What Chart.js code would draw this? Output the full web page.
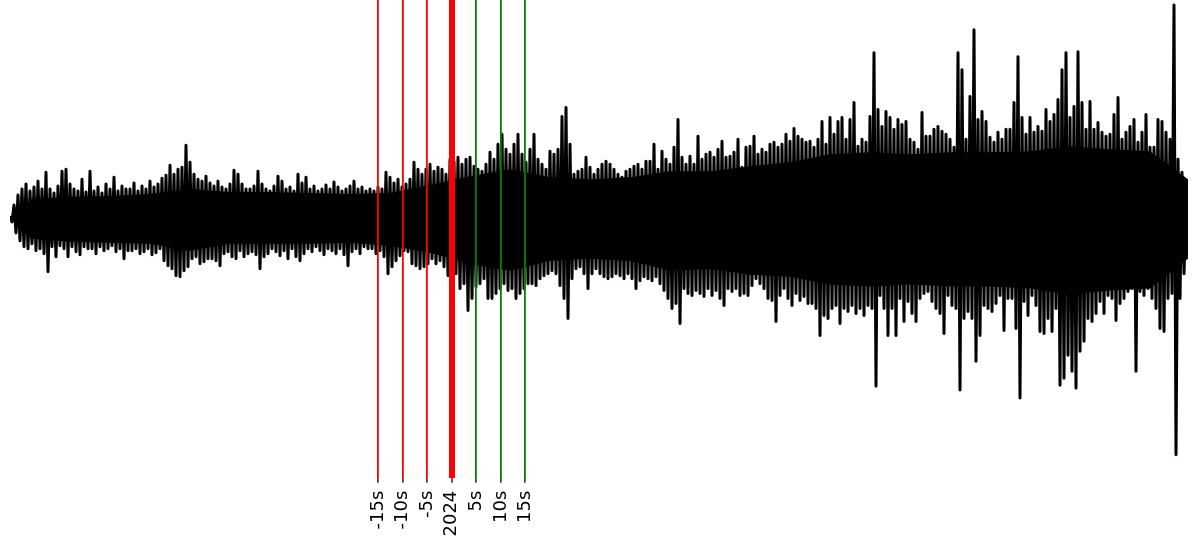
<!DOCTYPE html>
<html><head><meta charset="utf-8">
<script src="https://cdn.jsdelivr.net/npm/chart.js@4.4.1/dist/chart.umd.min.js"></script>
<style>html,body{margin:0;padding:0;background:#fff;}#wrap{width:1200px;height:550px;}</style>
</head><body><div id="wrap"><canvas id="c" width="1200" height="550"></canvas></div>
<script>
// tick positions (seconds relative to the event) and their labels
const tickValues = [-15, -10, -5, 0, 5, 10, 15];
const tickLabels = ['-15s', '-10s', '-5s', '2024', '5s', '10s', '15s'];
// time span covered by the waveform (seconds)
const timeStart = -90;
const timeEnd = 150;
// local positive peaks of the waveform, left to right
const peakHigh = [
  3, 14, 24, 30, 35, 28, 32, 38, 30, 47,
  30, 26, 33, 48, 50, 35, 30, 28, 40, 27,
  48, 28, 32, 26, 35, 30, 42, 28, 33, 30,
  30, 36, 28, 33, 30, 38, 32, 35, 41, 44,
  54, 45, 50, 52, 74, 57, 45, 40, 38, 43,
  36, 33, 38, 32, 30, 35, 49, 45, 35, 30,
  30, 33, 48, 35, 30, 28, 33, 43, 38, 30,
  32, 28, 45, 36, 42, 30, 33, 28, 30, 34,
  30, 37, 32, 28, 30, 33, 38, 30, 32, 28,
  30, 28, 32, 30, 47, 42, 36, 40, 32, 35,
  40, 57, 50, 45, 50, 55, 48, 52, 50, 45,
  60, 58, 62, 55, 60, 62, 53, 50, 48, 55,
  67, 60, 75, 85, 70, 65, 75, 85, 65, 57,
  70, 85, 60, 55, 50, 68, 65, 70, 103, 112,
  75, 45, 48, 50, 62, 52, 45, 50, 55, 58,
  55, 50, 45, 42, 48, 50, 53, 55, 50, 58,
  58, 75, 50, 68, 60, 55, 72, 100, 62, 55,
  63, 55, 83, 60, 65, 67, 62, 70, 78, 62,
  63, 67, 80, 52, 72, 73, 83, 65, 70, 67,
  75, 77, 72, 75, 85, 78, 91, 83, 80, 77,
  78, 72, 80, 98, 75, 102, 85, 98, 102, 80,
  100, 117, 73, 80, 77, 103, 167, 110, 93, 108,
  102, 90, 100, 95, 98, 80, 77, 70, 107, 83,
  83, 90, 93, 88, 85, 80, 72, 167, 150, 80,
  123, 190, 100, 108, 98, 82, 77, 87, 80, 90,
  90, 117, 163, 102, 85, 102, 87, 93, 88, 110,
  98, 105, 120, 150, 167, 102, 113, 168, 117, 90,
  118, 90, 97, 87, 83, 85, 105, 122, 80, 87,
  93, 100, 77, 87, 105, 72, 72, 100, 98, 87,
  80, 215, 60, 47, 12
];
// local negative peaks of the waveform, left to right
const peakLow = [
  -3, -14, -22, -28, -30, -25, -32, -30, -35, -53,
  -28, -38, -27, -30, -38, -28, -33, -36, -28, -30,
  -30, -35, -28, -32, -30, -27, -33, -30, -40, -32,
  -32, -30, -35, -33, -30, -36, -34, -30, -42, -47,
  -50, -57, -58, -52, -48, -40, -38, -45, -43, -40,
  -40, -42, -47, -35, -33, -38, -40, -32, -38, -35,
  -33, -36, -50, -38, -35, -30, -33, -37, -32, -40,
  -30, -38, -42, -35, -30, -33, -28, -32, -36, -30,
  -32, -35, -30, -36, -47, -33, -30, -35, -28, -30,
  -30, -35, -32, -38, -55, -48, -42, -37, -32, -33,
  -45, -47, -50, -48, -45, -40, -45, -42, -48, -57,
  -52, -55, -70, -65, -92, -80, -68, -65, -60, -80,
  -80, -75, -70, -65, -72, -70, -80, -75, -70, -65,
  -65, -67, -60, -57, -55, -52, -55, -67, -80, -100,
  -60, -50, -48, -55, -70, -55, -50, -55, -58, -60,
  -58, -55, -57, -60, -55, -60, -70, -62, -58, -60,
  -62, -58, -65, -72, -80, -90, -85, -105, -70, -75,
  -77, -72, -75, -78, -70, -77, -72, -80, -87, -70,
  -73, -70, -77, -75, -77, -67, -60, -65, -70, -80,
  -82, -103, -77, -70, -80, -87, -75, -82, -78, -85,
  -85, -90, -117, -97, -100, -90, -87, -105, -90, -93,
  -87, -95, -90, -97, -87, -90, -168, -77, -90, -117,
  -90, -117, -80, -103, -83, -95, -103, -80, -75, -73,
  -83, -90, -95, -115, -77, -87, -90, -172, -100, -93,
  -100, -143, -117, -87, -90, -93, -85, -77, -112, -80,
  -80, -110, -180, -83, -97, -77, -87, -113, -115, -100,
  -113, -90, -167, -160, -137, -153, -170, -133, -123, -100,
  -103, -95, -83, -95, -77, -80, -102, -85, -80, -73,
  -70, -153, -73, -77, -70, -80, -90, -110, -113, -80,
  -75, -237, -80, -55, -12
];
// solid core of the waveform (upper / lower edge), one value per block of 10 peaks
const coreHigh = [
  20, 22, 23, 25, 30, 27, 27, 26, 25, 26,
  34, 43, 50, 42, 40, 42, 48, 48, 53, 57,
  65, 67, 65, 67, 67, 68, 73, 70, 68, 40
];
const coreLow = [
  -20, -23, -24, -25, -32, -25, -25, -25, -24, -27,
  -34, -45, -52, -42, -40, -42, -52, -50, -56, -58,
  -66, -68, -66, -68, -68, -70, -76, -72, -70, -40
];

// interleave peaks into one waveform trace, samples evenly spaced in time
const samples = [];
peakHigh.forEach((h, i) => { samples.push(h, peakLow[i]); });
const step = (timeEnd - timeStart) / (samples.length - 1);
const wavePoints = samples.map((v, j) => ({ x: timeStart + j * step, y: v }));
// core values sit at the middle of their block of samples
const blockTime = b => wavePoints[Math.min(b * 20 + 10, wavePoints.length - 1)].x;
const coreHighPoints = coreHigh.map((v, b) => ({ x: blockTime(b), y: v }));
const coreLowPoints = coreLow.map((v, b) => ({ x: blockTime(b), y: v }));

const RED = '#ff0000', GREEN = '#008000';
new Chart(document.getElementById('c'), {
  type: 'line',
  data: {
    datasets: [{
      data: coreHighPoints,
      borderWidth: 0,
      borderColor: 'rgba(0,0,0,0)',
      pointRadius: 0,
      fill: false,
      tension: 0
    }, {
      data: coreLowPoints,
      borderWidth: 0,
      borderColor: 'rgba(0,0,0,0)',
      backgroundColor: '#000',
      pointRadius: 0,
      fill: '-1',
      tension: 0
    }, {
      data: wavePoints,
      borderColor: '#000',
      backgroundColor: '#000',
      borderWidth: 3,
      borderJoinStyle: 'round',
      fill: false,
      pointRadius: 0,
      tension: 0
    }]
  },
  options: {
    responsive: false,
    animation: false,
    devicePixelRatio: 1,
    layout: { padding: { left: 10, right: 12, top: 0, bottom: 5.5 } },
    plugins: { legend: { display: false }, tooltip: { enabled: false } },
    scales: {
      x: {
        type: 'linear',
        min: timeStart,
        max: timeEnd,
        border: { display: false },
        afterBuildTicks: s => { s.ticks = tickValues.map(v => ({ value: v })); },
        grid: {
          z: 1,
          color: ctx => (ctx.tick && ctx.tick.value > 0) ? GREEN : RED,
          lineWidth: ctx => (ctx.tick && ctx.tick.value === 0) ? 6 : 1.8,
          tickColor: '#000',
          tickWidth: 1.3,
          tickLength: 5
        },
        ticks: {
          autoSkip: false,
          maxRotation: 90,
          minRotation: 90,
          padding: 8,
          color: '#000',
          font: { family: 'DejaVu Sans', size: 18 },
          callback: v => tickLabels[tickValues.indexOf(v)]
        }
      },
      y: { display: false, min: -260, max: 220 }
    }
  }
});
</script>
</body></html>
